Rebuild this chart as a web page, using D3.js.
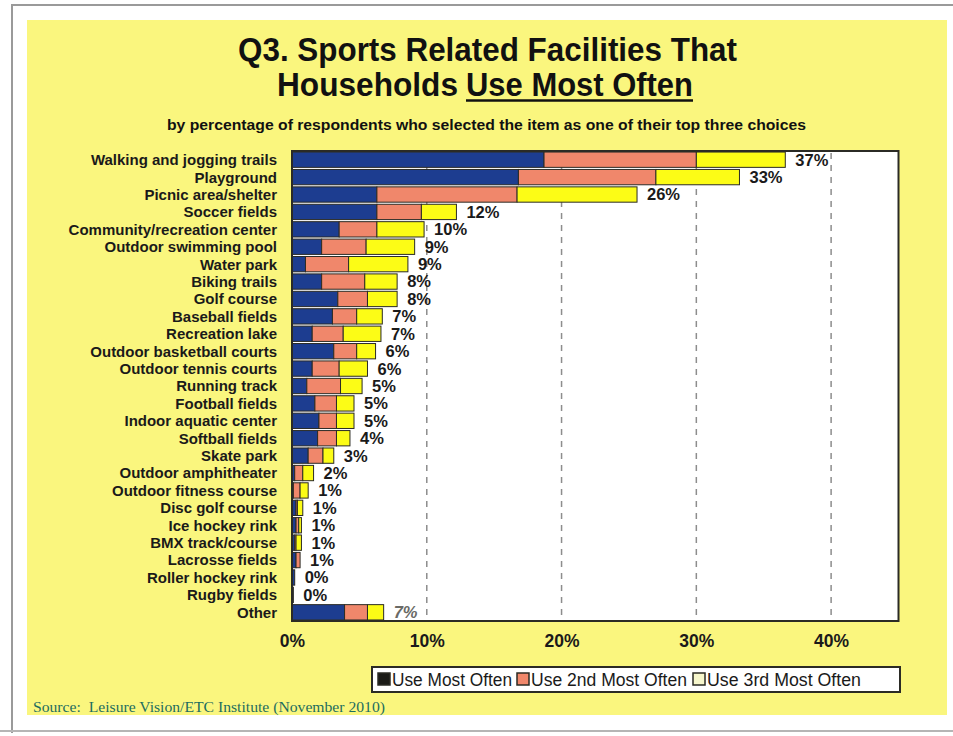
<!DOCTYPE html>
<html>
<head>
<meta charset="utf-8">
<script src="https://cdn.jsdelivr.net/npm/d3@7"></script>
<style>
  html, body { margin: 0; padding: 0; background: #ffffff; }
  svg { display: block; }
</style>
</head>
<body>
<svg id="chart" width="953" height="736"></svg>
<script>
// Facilities, top to bottom
const categories = [
  "Walking and jogging trails", "Playground", "Picnic area/shelter", "Soccer fields",
  "Community/recreation center", "Outdoor swimming pool", "Water park", "Biking trails",
  "Golf course", "Baseball fields", "Recreation lake", "Outdoor basketball courts",
  "Outdoor tennis courts", "Running track", "Football fields", "Indoor aquatic center",
  "Softball fields", "Skate park", "Outdoor amphitheater", "Outdoor fitness course",
  "Disc golf course", "Ice hockey rink", "BMX track/course", "Lacrosse fields",
  "Roller hockey rink", "Rugby fields", "Other"
];

// Percent of respondents, by rank of choice
const useMostOften = [18.7, 16.8, 6.3, 6.3, 3.5, 2.2, 1.0, 2.2, 3.4, 3.0, 1.5, 3.1, 1.5, 1.1, 1.7, 2.0, 1.9, 1.2, 0.2, 0.1, 0.3, 0.3, 0.2, 0.3, 0.2, 0.1, 3.9];
const useSecondMost = [11.3, 10.2, 10.4, 3.3, 2.8, 3.3, 3.2, 3.2, 2.2, 1.8, 2.3, 1.7, 2.0, 2.5, 1.6, 1.3, 1.4, 1.1, 0.6, 0.5, 0.1, 0.2, 0.1, 0.3, 0.0, 0.0, 1.7];
const useThirdMost  = [6.6, 6.2, 8.9, 2.6, 3.5, 3.6, 4.4, 2.4, 2.2, 1.9, 2.8, 1.4, 2.1, 1.6, 1.3, 1.3, 1.0, 0.8, 0.8, 0.6, 0.4, 0.2, 0.4, 0.0, 0.0, 0.0, 1.2];

const seriesNames = ["Use Most Often", "Use 2nd Most Often", "Use 3rd Most Often"];
const tickValues = [0, 10, 20, 30, 40];

const rows = categories.map((c, i) => ({
  category: c,
  first: useMostOften[i],
  second: useSecondMost[i],
  third: useThirdMost[i]
}));
const keys = ["first", "second", "third"];

const barColors = { first: "#1d3d90", second: "#f0876b", third: "#fcfc16" };
const swatchColors = ["#1b1b17", "#f0876b", "#f7f7cc"];

const svg = d3.select("#chart");

// page frame and panel
svg.append("rect").attr("x", 0).attr("y", 0).attr("width", 953).attr("height", 736).attr("fill", "#ffffff");
svg.append("path")
  .attr("d", "M12,733 L12,5 L953,5")
  .attr("fill", "none").attr("stroke", "#9a9a9a").attr("stroke-width", 2);
svg.append("line").attr("x1", 0).attr("x2", 953).attr("y1", 731).attr("y2", 731)
  .attr("stroke", "#b5b5b5").attr("stroke-width", 2);
svg.append("rect").attr("x", 27).attr("y", 20).attr("width", 920).attr("height", 695).attr("fill", "#faf67e");

// titles
const titleFont = "'Liberation Sans Narrow', 'Arial Narrow', 'Liberation Sans', Arial, sans-serif";
function fitText(sel, width) {
  sel.attr("textLength", width).attr("lengthAdjust", "spacingAndGlyphs");
  return sel;
}
fitText(svg.append("text")
  .attr("x", 238).attr("y", 61)
  .attr("font-family", titleFont).attr("font-weight", "bold").attr("font-size", 33)
  .attr("fill", "#111")
  .text("Q3. Sports Related Facilities That"), 499);
fitText(svg.append("text")
  .attr("x", 277).attr("y", 96)
  .attr("font-family", titleFont).attr("font-weight", "bold").attr("font-size", 33)
  .attr("fill", "#111")
  .text("Households"), 181);
fitText(svg.append("text")
  .attr("x", 466).attr("y", 96)
  .attr("font-family", titleFont).attr("font-weight", "bold").attr("font-size", 33)
  .attr("fill", "#111")
  .text("Use Most Often"), 227);
svg.append("line").attr("x1", 466).attr("x2", 693).attr("y1", 100.5).attr("y2", 100.5)
  .attr("stroke", "#111").attr("stroke-width", 2.5);
fitText(svg.append("text")
  .attr("x", 167).attr("y", 130)
  .attr("font-family", titleFont).attr("font-weight", "bold").attr("font-size", 15)
  .attr("fill", "#111")
  .text("by percentage of respondents who selected the item as one of their top three choices"), 639);

// scales
const x = d3.scaleLinear().domain([0, 45]).range([292, 898.5]);
const y = d3.scaleBand().domain(categories).range([151, 621]).paddingInner(0.12).paddingOuter(0.06);

// plot area
svg.append("rect")
  .attr("x", x(0)).attr("y", 151).attr("width", x(45) - x(0)).attr("height", 470)
  .attr("fill", "#ffffff");

svg.append("g").selectAll("line")
  .data(tickValues.filter(d => d > 0))
  .join("line")
  .attr("x1", d => x(d)).attr("x2", d => x(d))
  .attr("y1", 153).attr("y2", 620)
  .attr("stroke", "#8d8d8d").attr("stroke-width", 1.5).attr("stroke-dasharray", "6,6");

// stacked bars
const stacked = d3.stack().keys(keys)(rows);
svg.append("g").selectAll("g")
  .data(stacked)
  .join("g")
  .attr("fill", d => barColors[d.key])
  .selectAll("rect")
  .data(d => d.filter(s => s[1] - s[0] > 0))
  .join("rect")
  .attr("x", d => x(d[0]))
  .attr("y", d => y(d.data.category))
  .attr("width", d => x(d[1]) - x(d[0]))
  .attr("height", y.bandwidth())
  .attr("stroke", "#2b2b25").attr("stroke-width", 1);

svg.append("rect")
  .attr("x", x(0)).attr("y", 151).attr("width", x(45) - x(0)).attr("height", 470)
  .attr("fill", "none").attr("stroke", "#2b2b25").attr("stroke-width", 2);

// value labels
const bodyFont = "'Liberation Sans', Arial, Helvetica, sans-serif";
svg.append("g").selectAll("text")
  .data(rows)
  .join("text")
  .attr("x", d => x(d.first + d.second + d.third) + 10)
  .attr("y", d => y(d.category) + y.bandwidth() / 2)
  .attr("dy", "0.36em")
  .attr("font-family", bodyFont).attr("font-weight", "bold").attr("font-size", 16.5)
  .attr("font-style", d => d.category === "Other" ? "italic" : "normal")
  .attr("fill", d => d.category === "Other" ? "#6a6a66" : "#1a1a1a")
  .text(d => Math.round(d.first + d.second + d.third) + "%");

// category labels
svg.append("g").selectAll("text")
  .data(categories)
  .join("text")
  .attr("x", 277)
  .attr("y", d => y(d) + y.bandwidth() / 2)
  .attr("dy", "0.36em")
  .attr("text-anchor", "end")
  .attr("font-family", bodyFont).attr("font-weight", "bold").attr("font-size", 15)
  .attr("fill", "#1a1a1a")
  .text(d => d);

// x axis
const axis = svg.append("g")
  .attr("transform", "translate(0,621)")
  .call(d3.axisBottom(x).tickValues(tickValues).tickFormat(d => d + "%").tickSize(0).tickPadding(14));
axis.select(".domain").remove();
axis.selectAll("text")
  .attr("font-family", bodyFont).attr("font-weight", "bold").attr("font-size", 17.5)
  .attr("fill", "#1a1a1a");

// legend
const legend = svg.append("g");
legend.append("rect")
  .attr("x", 372).attr("y", 667).attr("width", 528).attr("height", 25)
  .attr("fill", "#ffffff").attr("stroke", "#2b2b25").attr("stroke-width", 2);
const legendSwatchX = [378, 517, 693];
const legendTextWidth = [120, 156, 154];
seriesNames.forEach((name, i) => {
  legend.append("rect")
    .attr("x", legendSwatchX[i]).attr("y", 673).attr("width", 12).attr("height", 12)
    .attr("fill", swatchColors[i]).attr("stroke", "#2b2b25").attr("stroke-width", 1.5);
  fitText(legend.append("text")
    .attr("x", legendSwatchX[i] + 14).attr("y", 686)
    .attr("font-family", titleFont).attr("font-size", 18).attr("fill", "#1a1a1a")
    .text(name), legendTextWidth[i]);
});

// source note
fitText(svg.append("text")
  .attr("x", 33).attr("y", 712)
  .attr("font-family", "'Liberation Serif', 'Times New Roman', serif").attr("font-size", 14.5)
  .attr("fill", "#1d6d5e")
  .attr("xml:space", "preserve")
  .text("Source:  Leisure Vision/ETC Institute (November 2010)"), 352);
</script>
</body>
</html>
